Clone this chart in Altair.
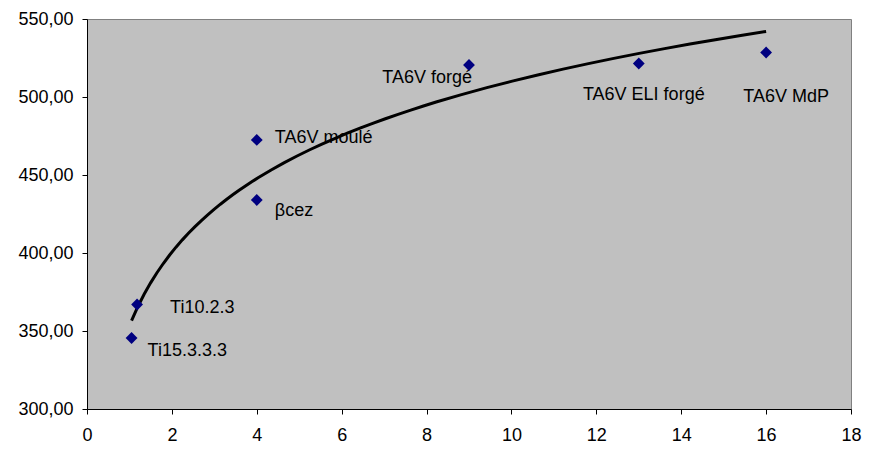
import altair as alt
import pandas as pd

# ---- data ----
names = ["Ti15.3.3.3", "Ti10.2.3", "TA6V moulé", "βcez", "TA6V forgé", "TA6V ELI forgé", "TA6V MdP"]
x_vals = [1.05, 1.18, 4, 4, 9, 13, 16]
y_vals = [345.5, 367, 472.5, 434, 520.5, 521.5, 528.5]
x_ticks = [0, 2, 4, 6, 8, 10, 12, 14, 16, 18]
y_ticks = [300, 350, 400, 450, 500, 550]

# ---- label placement (styling, pixels) ----
label_style = {
    "Ti15.3.3.3": (16, 13, "left"),
    "Ti10.2.3": (33, 4, "left"),
    "TA6V moulé": (18, -2, "left"),
    "βcez": (18, 11, "left"),
    "TA6V forgé": (3, 13, "right"),
    "TA6V ELI forgé": (5, 32, "center"),
    "TA6V MdP": (20, 44, "center"),
}

df = pd.DataFrame({"name": names, "x": x_vals, "y": y_vals})

FONT = "Liberation Sans"
FS = 18

xs = alt.Scale(domain=[0, 18], nice=False, zero=False)
ys = alt.Scale(domain=[300, 550], nice=False, zero=False)

x_axis = alt.Axis(values=x_ticks, title=None, grid=False, tickSize=5, labelPadding=12,
                  labelFont=FONT, labelFontSize=FS, labelColor="black",
                  domainColor="black", tickColor="black", labelFlush=False)
y_axis = alt.Axis(values=y_ticks, title=None, grid=False, tickSize=5, labelPadding=9,
                  labelFont=FONT, labelFontSize=FS, labelColor="black",
                  domainColor="black", tickColor="black",
                  labelExpr="replace(format(datum.value, '.2f'), '.', ',')")

base = alt.Chart(df)

trend = base.transform_regression("x", "y", method="log").mark_line(
    color="black", strokeWidth=3
).encode(
    x=alt.X("x:Q", scale=xs, axis=x_axis),
    y=alt.Y("y:Q", scale=ys, axis=y_axis),
)

points = base.mark_point(shape="diamond", filled=True, color="#000080", size=140, opacity=1).encode(
    x=alt.X("x:Q", scale=xs),
    y=alt.Y("y:Q", scale=ys),
)

layers = [trend, points]
for n, (dx, dy, al) in label_style.items():
    layers.append(
        base.transform_filter(alt.datum.name == n).mark_text(
            dx=dx, dy=dy, align=al, baseline="middle", font=FONT, fontSize=FS, color="black"
        ).encode(x=alt.X("x:Q", scale=xs), y=alt.Y("y:Q", scale=ys), text="name:N")
    )

chart = alt.layer(*layers).properties(
    width=764, height=390,
    autosize=alt.AutoSizeParams(type="none"),
    padding={"left": 79, "top": 11, "right": 11, "bottom": 35},
    background="white",
).configure_view(fill="#C0C0C0", stroke="#808080", strokeWidth=1)

chart.save("out.html", embed_options={"renderer": "svg", "actions": False})
